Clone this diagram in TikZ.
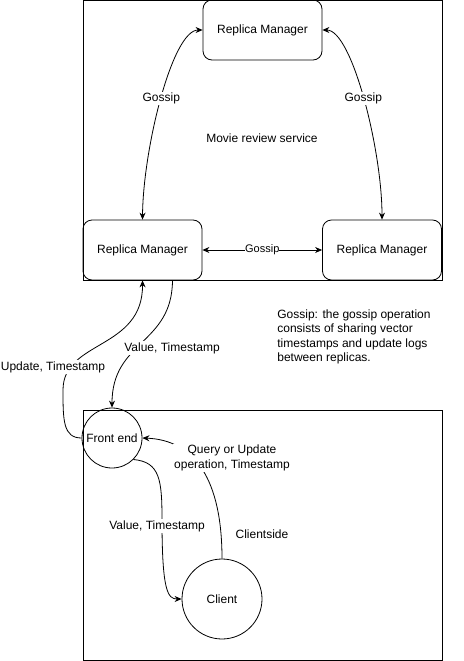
\documentclass[tikz,border=0pt]{standalone}
\usepackage{fontspec}
\setmainfont{Liberation Sans}
\usetikzlibrary{positioning,arrows.meta}

\begin{document}
\begin{tikzpicture}[
    x=1pt, y=-1pt,
    font=\fontsize{12}{14.5}\selectfont,
    line width=0.8pt,
    >={Stealth[length=7pt,width=6pt]},
    rm/.style ={
        rectangle,
        rounded corners=9pt,
        draw=black,
        minimum width=119pt,
        minimum height=60pt
    },
    circ/.style ={
        circle,
        draw=black,
        inner sep=0pt
    },
    lbl/.style ={
        fill=white,
        inner sep=1pt
    }
    ]
    \useasboundingbox (0,0) rectangle (463,661);

    % the two areas
    \draw (83,0.5) rectangle (442,280);
    \draw (83,410) rectangle (442,660);

    \node[rm] (rmtop) at (262.5,30) {Replica Manager};
    \node[rm] (rmleft) at (142.5,250) {Replica Manager};
    \node[rm] (rmright) at (382,250) {Replica Manager};
    \node (service) at (262,138) {Movie review service};
    \node[align=left, anchor=north west, inner sep=0pt] (note) at (277,309)
        {Gossip: the gossip operation\\consists of sharing vector\\timestamps and update logs\\between replicas.};

    \node[circ, minimum size=60pt] (front) at (112,438) {Front end};
    \node[circ, minimum size=80pt] (client) at (222,599) {Client};
    \node (clientside) at (262,534) {Clientside};

    % gossip between the replicas
    \draw[<->] (rmtop.west) .. controls (172,30) and (143,150) .. node[lbl] (gleft) {Gossip} (rmleft.north);
    \draw[<->] (rmtop.east) .. controls (352,30) and (382,150) .. node[lbl] (gright) {Gossip} (rmright.north);
    \draw[<->] (rmleft.east) -- node[lbl, inner sep=0pt, font=\fontsize{11}{13}\selectfont] (gbottom) {Gossip} (rmright.west);

    % front end <-> service
    \draw[->] (front.west) .. controls (63,438) and (63,420) .. (63,390)
        .. controls (63,340) and (143,350) .. (rmleft.south);
    \node[lbl] (update) at (53,367) {Update, Timestamp};
    \draw[->] ([xshift=30pt]rmleft.south) .. controls (172,345) and (112,340) .. (front.north);
    \node[lbl] (value) at (172,348) {Value, Timestamp};

    % client <-> front end
    \draw[->] (client.north) .. controls (222,480) and (195,440) .. (front.east);
    \node[lbl, align=center] (query) at (232,458) {Query or Update\\operation, Timestamp};
    \draw[->] (front.-45) .. controls (160,462) and (162,480) .. (162,520)
        .. controls (162,592) and (168,599) .. (client.west);
    \node[lbl] (reply) at (157,526) {Value, Timestamp};
\end{tikzpicture}
\end{document}
